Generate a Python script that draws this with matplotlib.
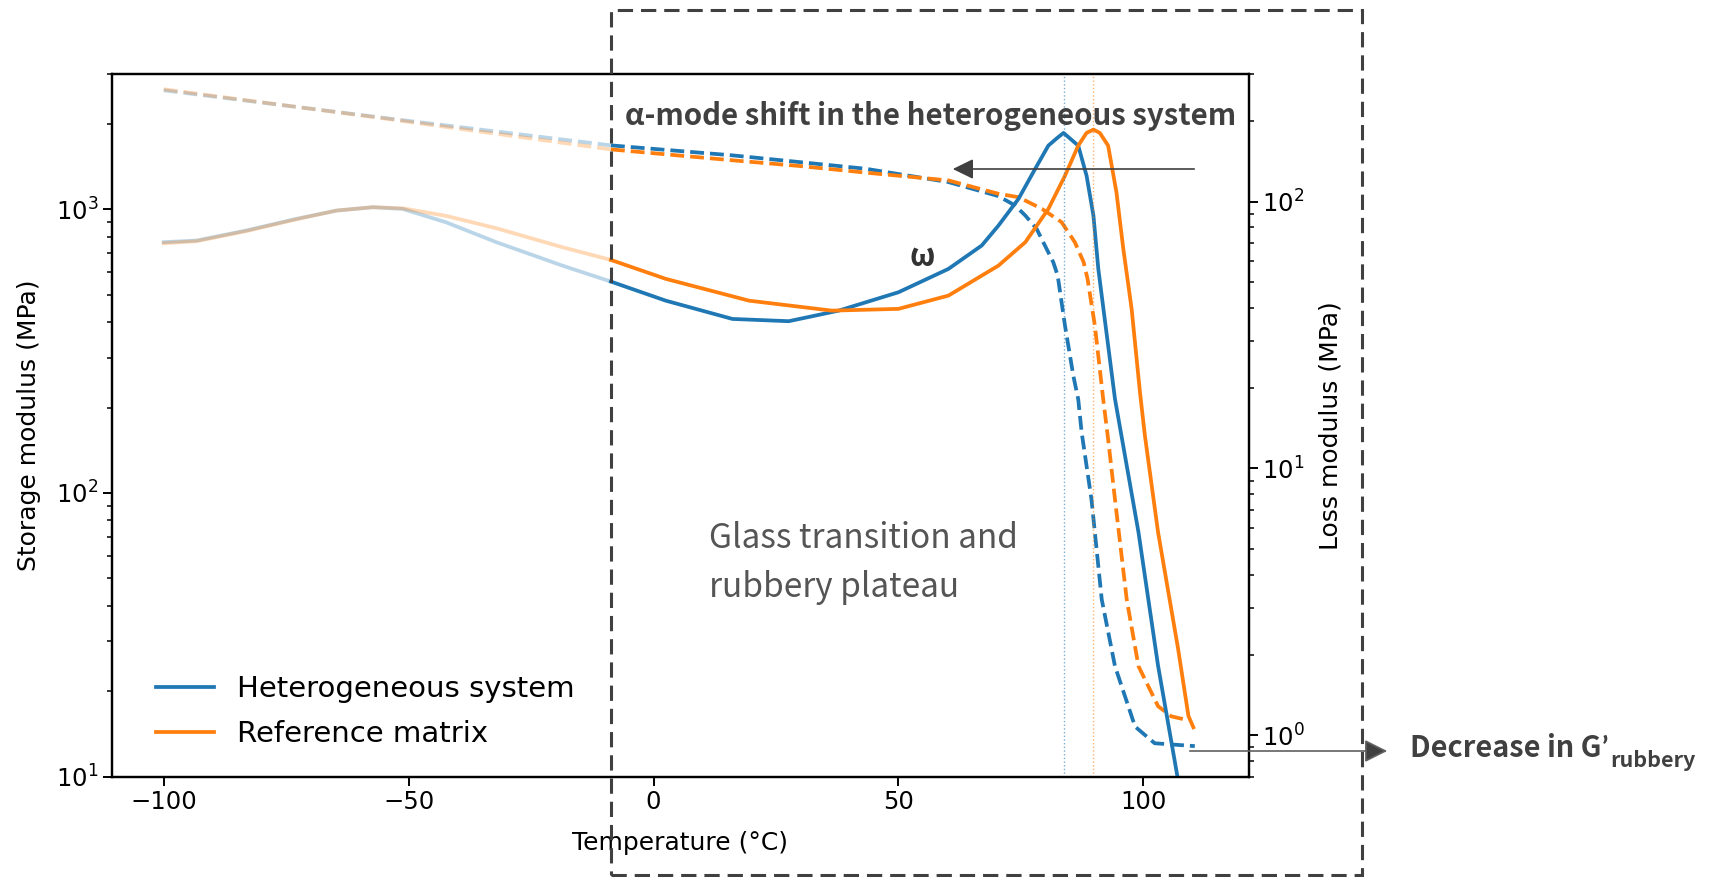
import numpy as np
import matplotlib
matplotlib.use('Agg')
import matplotlib.pyplot as plt
from matplotlib.lines import Line2D
from matplotlib.patches import Rectangle

# storage modulus G' (MPa), left axis
temp_sto_het = [-100, -54, -8.7, 16.1, 29.7, 43.3, 60.2, 70.4, 73.8, 75.9, 78.2, 79.9, 81.6, 82.5,
                84.0, 85.7, 86.7, 87.4, 89.4, 91.5, 94.2, 98.3, 102.3, 110.5]
sto_het = [2633, 2093, 1683, 1552, 1470, 1392, 1249, 1115, 1033, 952, 855, 746, 652, 585,
           389, 259, 214, 163.5, 95, 42.1, 24.5, 15.0, 13.1, 12.8]
temp_sto_ref = [-100, -54, -8.7, 16.1, 29.7, 43.3, 60.2, 70.4, 74.5, 79.3, 83.3, 86.0, 87.8, 88.6,
                90.1, 91.8, 92.8, 94.2, 96.6, 99.0, 103.0, 105.7, 108.4]
sto_ref = [2654, 2083, 1629, 1491, 1424, 1349, 1266, 1136, 1105, 1005, 902, 767, 652, 569,
           389, 214, 155, 95, 42.1, 24.5, 17.7, 16.3, 15.9]

# loss modulus G'' (MPa), right axis
temp_loss_het = [-100, -93.3, -83.1, -72.9, -64.7, -57.3, -51.2, -42.3, -32.1, -18.6, -8.7, 2.5,
                 16.1, 27.6, 37.8, 50, 60.2, 67, 70.4, 74.5, 77.9, 80.6, 82.3, 83.7, 85.0, 86.7,
                 88.4, 89.8, 90.8, 94.2, 99.0, 103.0, 106.8, 110.0]
loss_het = [70.4, 71.4, 77.9, 86.1, 92.5, 95.2, 93.8, 83.5, 70.4, 57.5, 50.1, 42.5,
            36.3, 35.6, 39.0, 45.7, 55.9, 68.4, 81.2, 102.3, 132.5, 162, 172.4, 180.8, 172.4, 162,
            125, 88.6, 55.9, 18.2, 5.76, 1.82, 0.726, 0.34]
temp_loss_ref = [-100, -93.3, -83.1, -72.9, -64.7, -57.3, -51.2, -42.3, -32.1, -18.6, -8.7, 2.5,
                 19.5, 36.4, 50, 60.2, 70.4, 75.9, 80.6, 84.0, 86.7, 88.4, 89.8, 91.1, 92.8, 94.5,
                 95.9, 97.6, 99.3, 100.3, 103.0, 107.1, 109.2, 110.2]
loss_ref = [69.8, 71.0, 77.5, 85.8, 92.5, 95.2, 94.3, 88.3, 79.4, 67.4, 60.4, 51.3,
            42.5, 39.0, 39.6, 44.4, 57.5, 70.4, 93.8, 125, 162, 180.8, 186, 180.8, 162, 108.3,
            66.5, 39.6, 19.3, 13.3, 5.76, 2.10, 1.18, 1.07]

# loss peak temperatures
tpeak_het = 83.7
tpeak_ref = 89.8
t_window = -8.7   # glass transition window starts here

labels = ['Heterogeneous system', 'Reference matrix']
C_HET = '#1f77b4'
C_REF = '#ff7f0e'
DARK = '#404040'
SANS = ['Noto Sans CJK SC', 'DejaVu Sans']

W, H = 1710, 877
LW = 2.7


def fx(px):
    return px / W


def fy(py):
    return 1 - py / H


def plot_split(ax, t, v, color, ls):
    t = np.asarray(t)
    v = np.asarray(v)
    pre = t <= t_window
    post = t >= t_window
    ax.plot(t[pre], v[pre], color=color, ls=ls, lw=LW, alpha=0.3)
    ax.plot(t[post], v[post], color=color, ls=ls, lw=LW)


plt.rcParams['font.family'] = 'DejaVu Sans'
fig = plt.figure(figsize=(W / 100, H / 100), dpi=100)
ax = fig.add_axes([0.06567, 0.11459, 0.66456, 0.80080])
ax2 = ax.twinx()

plot_split(ax, temp_sto_het, sto_het, C_HET, '--')
plot_split(ax, temp_sto_ref, sto_ref, C_REF, '--')
plot_split(ax2, temp_loss_het, loss_het, C_HET, '-')
plot_split(ax2, temp_loss_ref, loss_ref, C_REF, '-')

ax2.axvline(tpeak_het, color=C_HET, ls=':', lw=1.0, alpha=0.6)
ax2.axvline(tpeak_ref, color=C_REF, ls=':', lw=1.0, alpha=0.6)

ax.set_xlim(-110.5, 121.5)
ax.set_yscale('log')
ax.set_ylim(10, 3000)
ax2.set_yscale('log')
ax2.set_ylim(0.7, 300)

for a in (ax, ax2):
    a.tick_params(which='major', labelsize=17.5, length=6.3, width=1.4)
    a.tick_params(which='minor', length=3.6, width=1.1)
    for s in a.spines.values():
        s.set_linewidth(1.6)

ax.set_xlabel('Temperature (°C)', fontsize=18, labelpad=12)
ax.set_ylabel('Storage modulus (MPa)', fontsize=18)
ax2.set_ylabel('Loss modulus (MPa)', fontsize=18)
ax.yaxis.set_label_coords(-0.0624, 0.5)
ax2.yaxis.set_label_coords(1.0614, 0.5)

handles = [Line2D([], [], color=C_HET, lw=LW), Line2D([], [], color=C_REF, lw=LW)]
ax.legend(handles, labels, loc='lower left', frameon=False, fontsize=21,
          bbox_to_anchor=(0.015, 0.003), handlelength=2.0, labelspacing=0.58)

# dashed frame around the transition region
x_win = ax.transData.transform((t_window, 10))[0] / W
fig.patches.append(Rectangle((x_win, fy(875)), fx(1362) - x_win, fy(10) - fy(875),
                             transform=fig.transFigure, fill=False, ec=DARK, lw=2.2,
                             ls=(0, (5, 2.6))))

fig.text(fx(625), fy(116), 'α-mode shift in the heterogeneous system', family=SANS,
         fontsize=21.2, fontweight='bold', color=DARK, va='center', ha='left')
fig.text(fx(922), fy(257), 'ω', family=SANS, fontsize=22, fontweight='bold',
         color='#333333', va='center', ha='center')
fig.text(fx(709), fy(563), 'Glass transition and\nrubbery plateau', family=SANS,
         fontsize=24, color='#555555', va='center', ha='left', linespacing=1.55)

fig.add_artist(plt.Annotation('', xy=(fx(950), fy(169)), xycoords='figure fraction',
                              xytext=(fx(1197), fy(169)), textcoords='figure fraction',
                              arrowprops=dict(arrowstyle='-|>,head_length=0.45,head_width=0.22',
                                              mutation_scale=28, lw=1.2, color=DARK)))
fig.add_artist(plt.Annotation('', xy=(fx(1390), fy(751)), xycoords='figure fraction',
                              xytext=(fx(1187), fy(751)), textcoords='figure fraction',
                              arrowprops=dict(arrowstyle='-|>,head_length=0.5,head_width=0.25',
                                              mutation_scale=28, lw=1.2, color='#606060',
                                              fc=DARK)))

# G'_rubbery: base text, apostrophe and subscript placed one after the other
t_main = fig.text(fx(1410), fy(757), 'Decrease in G', family=SANS, fontsize=20.8,
                  fontweight='bold', color=DARK, va='baseline', ha='left')
fig.canvas.draw()
bb = t_main.get_window_extent()
t_apos = fig.text(bb.x1 / W + 0.0005, fy(757), '’', family=['Lato', 'DejaVu Sans'],
                  fontsize=21, fontweight='bold', color=DARK, va='baseline', ha='left')
fig.canvas.draw()
bb = t_apos.get_window_extent()
fig.text(bb.x1 / W + 0.0008, fy(767), 'rubbery', family=SANS, fontsize=15.5,
         fontweight='bold', color=DARK, va='baseline', ha='left')

fig.savefig('out.png', dpi=100)
